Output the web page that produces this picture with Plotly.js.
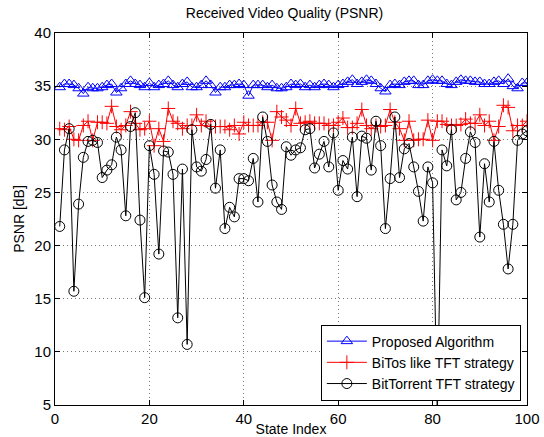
<!DOCTYPE html>
<html>
<head>
<meta charset="utf-8">
<script src="https://cdn.plot.ly/plotly-3.0.1.min.js"></script>
<style>html,body{margin:0;padding:0;background:#fff;}#chart{width:544px;height:437px;}</style>
</head>
<body>
<div id="chart"></div>
<script>
const stateIndex = Array.from({length: 100}, (_, i) => i + 1);

const proposed = [
34.9,35.2,35.2,35.1,34.8,34.3,34.9,34.8,34.8,34.9,
35.1,35.2,34.4,34.8,35.2,35.5,35.2,35.1,34.9,35.3,
34.9,35.1,35.2,35.5,35.1,34.9,35.2,35.4,34.9,34.9,
35.1,35.5,35.1,34.4,34.9,34.9,35.1,35.1,35.2,35.1,
34.1,35.1,35.1,35.1,34.9,35.1,34.8,34.8,34.9,35.2,
35.1,35.2,34.9,35.1,34.9,35.1,35.2,35.1,34.9,35.1,
35.2,35.4,35.6,35.2,35.4,35.6,35.5,35.2,34.8,34.5,
35.1,35.2,35.1,35.4,35.5,35.5,35.1,35.1,35.5,35.6,
35.5,35.5,35.2,35.1,35.4,35.6,35.5,35.5,35.4,35.4,
35.2,35.2,35.4,35.5,35.2,35.7,35.0,34.8,35.3,35.3
];

const bitos = [
31.0,30.9,31.2,30.0,29.9,31.3,31.7,29.9,31.6,31.6,
31.5,33.1,31.2,30.9,31.3,32.6,31.5,30.9,31.0,31.7,
29.4,31.0,29.8,32.9,31.7,31.5,31.0,31.3,31.3,32.3,
31.3,31.7,31.2,31.2,31.2,31.2,30.9,31.3,30.5,31.6,
31.3,31.3,31.3,31.6,31.6,29.9,32.6,32.1,31.8,31.3,
32.9,31.5,31.6,31.7,31.5,31.5,31.5,31.3,31.3,31.6,
32.0,31.1,31.1,31.5,32.8,31.3,31.0,31.3,31.2,31.3,
32.8,31.6,31.0,29.9,31.7,29.9,30.0,30.0,31.8,29.9,
31.7,31.7,31.4,31.3,31.3,31.4,31.9,31.5,31.5,32.3,
31.3,31.7,29.9,31.2,33.2,33.0,30.8,31.3,31.3,31.7
];

const bittorrent = [
21.8,29.0,31.0,15.7,23.9,28.3,29.8,29.9,29.7,26.4,
27.1,27.6,30.2,29.0,22.8,31.2,32.5,22.4,15.1,29.4,
26.7,19.2,28.9,28.8,26.7,13.2,27.2,10.7,30.9,27.4,
27.0,28.1,31.4,25.4,29.0,21.6,23.6,22.7,26.3,26.3,
26.1,28.2,24.1,32.1,29.8,25.7,24.1,23.4,29.3,28.5,
29.0,29.2,30.9,31.0,27.3,28.6,29.8,27.4,30.6,25.2,
28.0,27.2,30.2,24.6,30.3,30.1,27.1,31.7,29.4,21.6,
26.3,32.1,26.4,29.1,29.6,27.4,25.1,22.3,27.4,25.9,
4.0,29.0,27.5,30.9,24.3,25.0,28.2,30.7,29.7,20.8,
27.7,24.1,29.8,25.2,22.0,17.8,22.0,29.9,30.5,30.8
];

const xTicks = [0, 20, 40, 60, 80, 100];
const yTicks = [5, 10, 15, 20, 25, 30, 35, 40];
const names = ['Proposed Algorithm', 'BiTos like TFT strategy', 'BitTorrent TFT strategy'];

const fam = 'Liberation Sans, Arial, sans-serif';
const tickFont = {family: fam, size: 15, color: '#000'};
const labelFont = {family: fam, size: 14, color: '#000'};
const legendFont = {family: fam, size: 14, color: '#000'};

const traces = [
  {x: stateIndex, y: proposed, name: names[0], type: 'scatter', mode: 'lines+markers',
   line: {color: '#0000ff', width: 1},
   marker: {symbol: 'triangle-up-open', size: 10, color: '#0000ff', line: {width: 1}}},
  {x: stateIndex, y: bitos, name: names[1], type: 'scatter', mode: 'lines+markers',
   line: {color: '#ff0000', width: 1},
   marker: {symbol: 'cross-thin-open', size: 10, color: '#ff0000', line: {width: 1, color: '#ff0000'}}},
  {x: stateIndex, y: bittorrent, name: names[2], type: 'scatter', mode: 'lines+markers',
   line: {color: '#000000', width: 1},
   marker: {symbol: 'circle-open', size: 10, color: '#000000', line: {width: 1}}}
];

const axisCommon = {
  showline: true, mirror: 'ticks', linecolor: '#000', linewidth: 1,
  ticks: 'inside', ticklen: 5, tickcolor: '#000',
  showgrid: true, gridcolor: '#777', griddash: '1px,3px', gridwidth: 1,
  zeroline: false, tickfont: tickFont
};

const layout = {
  width: 544, height: 437,
  margin: {l: 55, r: 17, t: 33, b: 32},
  paper_bgcolor: '#fff', plot_bgcolor: '#fff',
  font: tickFont,
  title: {text: 'Received Video Quality (PSNR)', font: {family: fam, size: 14, color: '#000'},
          x: 0.523, xanchor: 'center', y: 0.97, yanchor: 'middle'},
  xaxis: Object.assign({}, axisCommon, {
    range: [0, 100], tickvals: xTicks, ticktext: xTicks.map(String),
    title: {text: 'State Index', font: labelFont, standoff: 7}
  }),
  yaxis: Object.assign({}, axisCommon, {
    range: [5, 40], tickvals: yTicks, ticktext: yTicks.map(String),
    title: {text: 'PSNR [dB]', font: labelFont, standoff: 6}
  }),
  showlegend: true,
  legend: {x: 0.987, y: 0.012, xanchor: 'right', yanchor: 'bottom',
           bgcolor: '#fff', bordercolor: '#000', borderwidth: 1,
           font: legendFont, tracegroupgap: 0, itemwidth: 40},
};

Plotly.newPlot('chart', traces, layout, {displayModeBar: false, staticPlot: true});
</script>
</body>
</html>
